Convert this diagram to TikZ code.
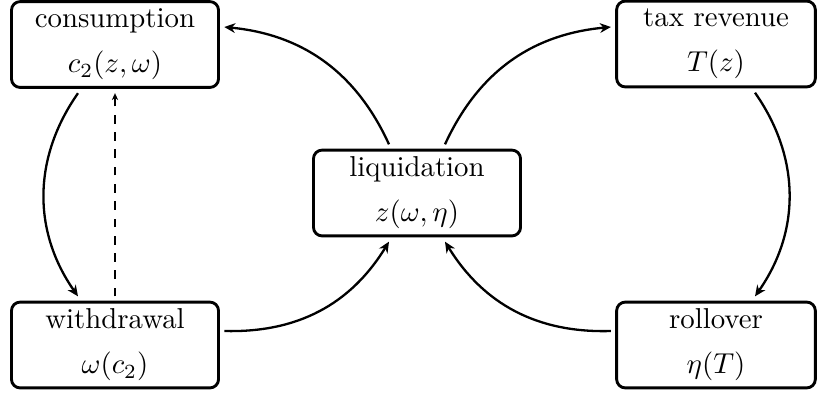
\documentclass[tikz,border=0pt]{standalone}
\usetikzlibrary{arrows.meta,calc}
\begin{document}
\begin{tikzpicture}[x=0.34724pt,y=0.34724pt,
  box/.style={draw, line width=1pt, rounded corners=3pt, align=center,
    minimum width=71.9pt, minimum height=29.8pt, outer sep=2pt, inner sep=2pt},
  arr/.style={-{Stealth[length=3.8pt,width=3.4pt]}, line width=0.8pt},
  darr/.style={-{Stealth[length=2.4pt,width=2.2pt]}, line width=0.4pt, dashed}]
\useasboundingbox (0,-398) rectangle (817,0);
\node[box] (cons) at (115,-44.5) {consumption\\[3.6pt]$c_2(z,\omega)$};
\node[box] (wd) at (115,-345) {withdrawal\\[3.6pt]$\omega(c_2)$};
\node[box] (liq) at (417,-193) {liquidation\\[3.6pt]$z(\omega,\eta)$};
\node[box, minimum width=69pt] (tax) at (716,-44) {tax revenue\\[3.6pt]$T(z)$};
\node[box, minimum width=69pt] (roll) at (716,-345) {rollover\\[3.6pt]$\eta(T)$};
\draw[arr] ($(liq.north)+(-28,0)$) to[bend right=30] ($(cons.east)+(0,17.5)$);
\draw[arr] ($(liq.north)+(28,0)$) to[bend left=30] ($(tax.west)+(0,17)$);
\draw[arr] ($(cons.south)+(-37,0)$) to[bend right=35] ($(wd.north)+(-37,0)$);
\draw[arr] ($(wd.east)+(0,14)$) to[bend right=30] ($(liq.south)+(-28,0)$);
\draw[arr] ($(roll.west)+(0,14)$) to[bend left=30] ($(liq.south)+(28,0)$);
\draw[arr] ($(tax.south)+(39,0)$) to[bend left=35] ($(roll.north)+(39,0)$);
\draw[darr] (wd.north) -- (cons.south);
\end{tikzpicture}
\end{document}
